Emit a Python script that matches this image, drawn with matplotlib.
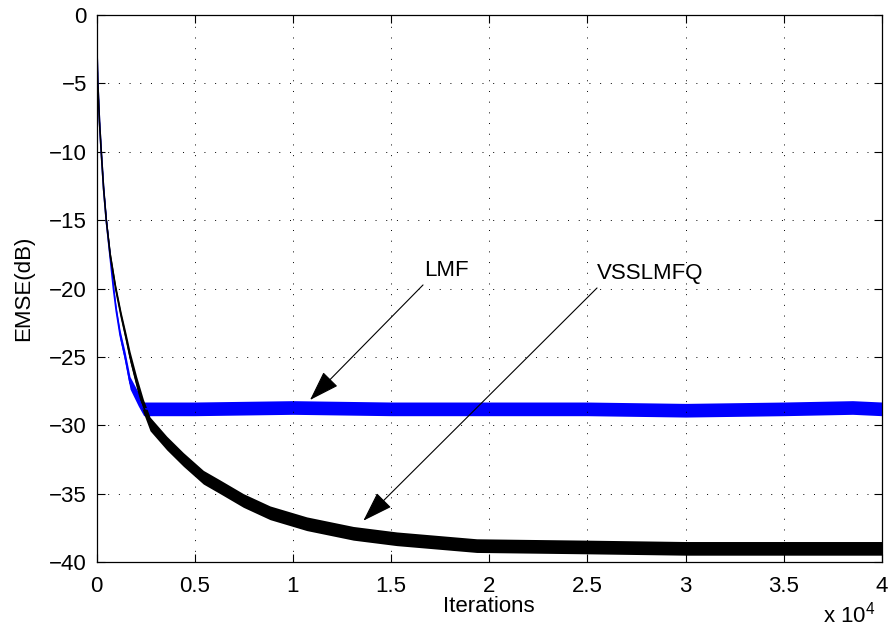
import numpy as np
import matplotlib
matplotlib.use('Agg')
import matplotlib.pyplot as plt

plt.rcParams['font.family'] = ['Liberation Sans', 'DejaVu Sans']
plt.rcParams['mathtext.fontset'] = 'custom'
plt.rcParams['mathtext.rm'] = 'Liberation Sans'

# VSSLMFQ learning curve (EMSE in dB vs iteration) and its noise half-width
vss_iter = [0, 30, 66, 150, 240, 360, 495, 700, 970, 1250, 1500, 1706, 2046, 2385, 2724,
            3574, 4420, 5440, 6289, 7477, 8835, 10704, 13077, 15285, 19360, 25000, 30000,
            35000, 40000]
vss_db = [0, -3, -5, -7.8, -10, -12.7, -15, -17.6, -20, -22.0, -23.6, -25, -26.9, -28.6, -29.9,
          -31.3, -32.5, -33.8, -34.5, -35.5, -36.4, -37.2, -37.9, -38.3, -38.8, -38.9, -39.0,
          -39.0, -39.0]
vss_spread = [0.1, 0.1, 0.1, 0.1, 0.1, 0.15, 0.2, 0.25, 0.3, 0.3, 0.35, 0.4, 0.45, 0.5, 0.5,
              0.5, 0.5, 0.5, 0.5, 0.5, 0.5, 0.5, 0.5, 0.5, 0.5, 0.5, 0.5,
              0.5, 0.5]

# LMF learning curve
lmf_iter = [0, 30, 66, 150, 240, 360, 495, 700, 860, 1000, 1200, 1451, 1706, 2130, 2400,
            5000, 10000, 15000, 20000, 25000, 30000, 35000, 38500, 40000]
lmf_db = [0, -3, -5, -7.8, -10, -12.7, -15, -17.8, -20, -21.6, -23.4, -25, -26.9, -28.1, -28.8,
          -28.8, -28.7, -28.8, -28.8, -28.8, -28.9, -28.8, -28.7, -28.8]
lmf_spread = [0.1, 0.1, 0.1, 0.1, 0.1, 0.15, 0.2, 0.25, 0.3, 0.3, 0.35, 0.4, 0.45, 0.5, 0.5,
              0.5, 0.5, 0.5, 0.5, 0.5, 0.5, 0.5, 0.5, 0.5]

x_ticks = [0, 5000, 10000, 15000, 20000, 25000, 30000, 35000, 40000]
x_tick_labels = ['0', '0.5', '1', '1.5', '2', '2.5', '3', '3.5', '4']
y_ticks = [0, -5, -10, -15, -20, -25, -30, -35, -40]

# annotation: label, text anchor, arrow start, arrow tip
notes = [
    ('LMF', (16677, -18.65), (16626, -19.74), (10872, -28.15)),
    ('VSSLMFQ', (25487, -18.87), (25487, -19.96), (13587, -36.98)),
]


def draw_curve(ax, it, db, spread, color):
  it = np.array(it)
  db = np.array(db)
  spread = np.array(spread)
  ax.fill_between(it, db - spread, db + spread, color=color, lw=0)
  ax.plot(it, db, color=color, lw=1.2)


fig = plt.figure(figsize=(8.93, 6.41), dpi=100)
ax = fig.add_axes([0.1081, 0.1232, 0.8796, 0.8534])

draw_curve(ax, lmf_iter, lmf_db, lmf_spread, (0, 0, 1))
draw_curve(ax, vss_iter, vss_db, vss_spread, 'black')

ax.set_xlim(0, 40000)
ax.set_ylim(-40, 0)
ax.set_xticks(x_ticks)
ax.set_xticklabels(x_tick_labels)
ax.set_yticks(y_ticks)
ax.grid(True, color='black', ls=(0, (1, 10)), lw=0.7)
ax.tick_params(direction='in', length=6, width=0.8, top=True, right=True,
               labelsize=16)
ax.tick_params(axis='x', pad=10)
ax.tick_params(axis='y', pad=7)
for s in ax.spines.values():
  s.set_linewidth(0.9)

ax.set_xlabel('Iterations', fontsize=16)
ax.xaxis.set_label_coords(0.5, -0.062)
ax.set_ylabel('EMSE(dB)', fontsize=16)
ax.yaxis.set_label_coords(-0.08, 0.5)

for label, txt_pos, start, tip in notes:
  ax.text(txt_pos[0], txt_pos[1], label, fontsize=16, ha='left', va='center')
  ax.annotate('', xy=tip, xytext=start,
              arrowprops=dict(arrowstyle='-|>,head_length=1.2,head_width=0.4',
                              color='black', lw=0.8, mutation_scale=16,
                              shrinkA=0, shrinkB=0))

fig.text(823 / 893, 1 - 623 / 641, r'x 10$^{4}$', fontsize=16, ha='left', va='baseline')

fig.savefig('out.png', dpi=100)
